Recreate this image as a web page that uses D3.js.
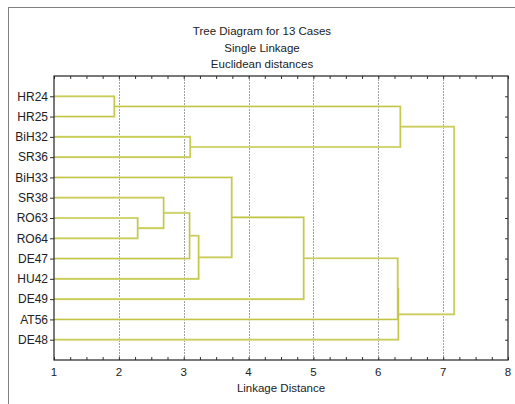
<!DOCTYPE html>
<html>
<head>
<meta charset="utf-8">
<script src="https://cdn.jsdelivr.net/npm/d3@7"></script>
<style>
  body { margin: 0; background: #fff; }
  text { font-family: "Liberation Sans", Arial, sans-serif; font-size: 11.5px; fill: #222; }
  .leaf text { font-size: 12px; }
</style>
</head>
<body>
<script>
// leaves in display order (top to bottom)
var leaves = ["HR24", "HR25", "BiH32", "SR36", "BiH33", "SR38", "RO63", "RO64", "DE47", "HU42", "DE49", "AT56", "DE48"];

// joins: [child a, child b, linkage distance]; ids 0..12 are leaves, 13.. are joins in this order
var joins = [
    [0, 1, 1.93],
    [6, 7, 2.29],
    [5, 14, 2.69],
    [15, 8, 3.09],
    [2, 3, 3.10],
    [16, 9, 3.23],
    [4, 18, 3.74],
    [19, 10, 4.85],
    [20, 11, 6.30],
    [21, 12, 6.31],
    [13, 17, 6.34],
    [23, 22, 7.17]
];

var xTicks = [1, 2, 3, 4, 5, 6, 7, 8];
var titleLines = ["Tree Diagram for 13 Cases", "Single Linkage", "Euclidean distances"];

var width = 515,
    height = 404;

// plot box edges (not "top": that name is taken by window.top)
var pLeft = 54, pRight = 508, pTop = 76, pBottom = 360;

var svg = d3.select("body").append("svg")
    .attr("width", width)
    .attr("height", height);

// outer frame
svg.append("rect")
    .attr("x", 8.5).attr("y", 7.5)
    .attr("width", 600).attr("height", 500)
    .attr("fill", "none")
    .attr("stroke", "#808080");

var x = d3.scaleLinear().domain([1, 8]).range([pLeft, pRight]);
var y = d3.scaleLinear().domain([0, leaves.length + 1]).range([pTop, pBottom]);

// grid
svg.append("g")
    .selectAll("line")
    .data(xTicks.slice(1, -1))
    .enter().append("line")
    .attr("x1", function(d) { return Math.round(x(d)) + 0.5; })
    .attr("x2", function(d) { return Math.round(x(d)) + 0.5; })
    .attr("y1", pTop)
    .attr("y2", pBottom)
    .attr("stroke", "#a0a0a0")
    .attr("stroke-dasharray", "2,1");

// node positions
var nodes = leaves.map(function(name, i) {
    return {name: name, h: 1, y: y(i + 1)};
});
joins.forEach(function(j) {
    var a = nodes[j[0]], b = nodes[j[1]];
    nodes.push({a: a, b: b, h: j[2], y: (a.y + b.y) / 2});
});

var tree = svg.append("g");
var joinNodes = nodes.slice(leaves.length);

function linkPath(d) {
    return "M" + x(d.a.h) + "," + d.a.y +
        "H" + x(d.h) +
        "V" + d.b.y +
        "H" + x(d.b.h);
}

tree.selectAll("path.halo")
    .data(joinNodes)
    .enter().append("path")
    .attr("class", "halo")
    .attr("d", linkPath)
    .attr("fill", "none")
    .attr("stroke", "#e2e4a6")
    .attr("stroke-width", 2.2);

tree.selectAll("path.link")
    .data(joinNodes)
    .enter().append("path")
    .attr("class", "link")
    .attr("d", linkPath)
    .attr("fill", "none")
    .attr("stroke", "#c2c541")
    .attr("stroke-width", 1.1);

// axes
var minor = d3.range(1, 8.001, 0.25);

svg.append("g")
    .attr("transform", "translate(0," + pBottom + ")")
    .call(d3.axisBottom(x).tickValues(minor).tickSize(-3).tickFormat(""))
    .call(function(g) { g.select(".domain").remove(); });

svg.append("g")
    .attr("transform", "translate(0," + pTop + ")")
    .call(d3.axisTop(x).tickValues(minor).tickSize(-3).tickFormat(""))
    .call(function(g) { g.select(".domain").remove(); });

svg.append("g")
    .attr("class", "leaf")
    .attr("transform", "translate(" + pLeft + ",0)")
    .call(d3.axisLeft(y).tickValues(d3.range(1, leaves.length + 1)).tickSize(4)
          .tickPadding(2)
          .tickFormat(function(d) { return leaves[d - 1]; }))
    .call(function(g) { g.select(".domain").remove(); });

svg.append("g")
    .attr("transform", "translate(" + pRight + ",0)")
    .call(d3.axisRight(y).tickValues(d3.range(1, leaves.length + 1)).tickSize(-3).tickFormat(""))
    .call(function(g) { g.select(".domain").remove(); });

svg.selectAll(".tick line").attr("stroke", "#333");
svg.selectAll("g").attr("font-size", null).attr("font-family", null);
svg.selectAll(".tick text").attr("fill", null);

svg.append("g")
    .selectAll("text")
    .data(xTicks)
    .enter().append("text")
    .attr("x", function(d) { return x(d); })
    .attr("y", pBottom + 16)
    .attr("text-anchor", "middle")
    .text(function(d) { return d; });

// plot box
svg.append("rect")
    .attr("x", pLeft).attr("y", pTop)
    .attr("width", pRight - pLeft).attr("height", pBottom - pTop)
    .attr("fill", "none")
    .attr("stroke", "#222")
    .attr("stroke-width", 1.2);

svg.append("text")
    .attr("x", (pLeft + pRight) / 2)
    .attr("y", 392)
    .attr("text-anchor", "middle")
    .text("Linkage Distance");

svg.append("g")
    .selectAll("text")
    .data(titleLines)
    .enter().append("text")
    .attr("x", 262)
    .attr("y", function(d, i) { return 35 + i * 16.5; })
    .attr("text-anchor", "middle")
    .text(function(d) { return d; });
</script>
</body>
</html>
